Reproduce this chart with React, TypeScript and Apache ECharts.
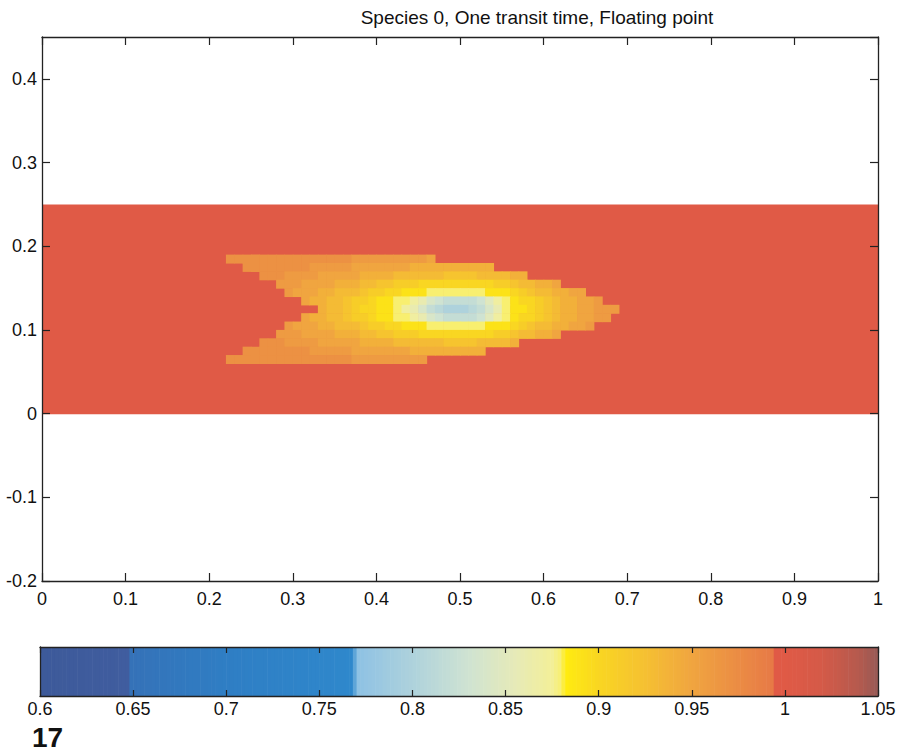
import React, { useEffect, useRef } from "react";
import * as echarts from "echarts";

// ---------------- data ----------------
const TITLE = "Species 0, One transit time, Floating point";
const FIG_NUMBER = "17";

const X_RANGE = [0, 1];
const X_INTERVAL = 0.1;
const Y_RANGE = [-0.2, 0.45];
const Y_INTERVAL = 0.1;
const CB_RANGE = [0.6, 1.05];
const CB_INTERVAL = 0.05;

// uniform background band of the channel (value 1.0)
const BAND_X = [0, 1];
const BAND_Y = [0, 0.25];
const BAND_VALUE = 1.0;

// plume cells: size of one cell in data units
const CELL_DX = 0.01;
const CELL_DY = 0.01;

// each row: lower y edge, left x edge of first cell, then cell values left -> right
const rowY = [0.18, 0.17, 0.16, 0.15, 0.14, 0.13, 0.12, 0.11, 0.10, 0.09, 0.08, 0.07, 0.06];
const rowX0 = [0.22, 0.24, 0.26, 0.28, 0.29, 0.31, 0.33, 0.31, 0.29, 0.28, 0.26, 0.24, 0.22];
const row18 = [0.97, 0.97, 0.97, 0.97, 0.97, 0.97, 0.97, 0.97, 0.97, 0.97, 0.97, 0.97, 0.97, 0.97, 0.97, 0.96, 0.96, 0.96, 0.96, 0.96, 0.96, 0.96, 0.96, 0.96, 0.95];
const row17 = [0.97, 0.97, 0.97, 0.97, 0.97, 0.97, 0.97, 0.97, 0.96, 0.96, 0.96, 0.96, 0.96, 0.95, 0.95, 0.95, 0.95, 0.95, 0.95, 0.95, 0.94, 0.94, 0.94, 0.94, 0.94, 0.94, 0.94, 0.94, 0.94, 0.94];
const row16 = [0.97, 0.97, 0.97, 0.96, 0.96, 0.96, 0.96, 0.95, 0.95, 0.95, 0.95, 0.95, 0.94, 0.94, 0.94, 0.94, 0.93, 0.93, 0.93, 0.93, 0.93, 0.93, 0.92, 0.92, 0.92, 0.92, 0.93, 0.93, 0.93, 0.93, 0.94, 0.94];
const row15 = [0.96, 0.96, 0.96, 0.95, 0.95, 0.95, 0.95, 0.94, 0.94, 0.94, 0.93, 0.93, 0.92, 0.92, 0.91, 0.91, 0.91, 0.90, 0.90, 0.90, 0.90, 0.90, 0.90, 0.90, 0.90, 0.90, 0.91, 0.91, 0.92, 0.93, 0.93, 0.94, 0.94, 0.95];
const row14 = [0.96, 0.95, 0.95, 0.95, 0.94, 0.94, 0.93, 0.93, 0.93, 0.92, 0.91, 0.91, 0.90, 0.90, 0.89, 0.89, 0.89, 0.88, 0.88, 0.88, 0.88, 0.88, 0.88, 0.88, 0.89, 0.89, 0.89, 0.90, 0.91, 0.92, 0.93, 0.93, 0.94, 0.94, 0.95, 0.95];
const row13 = [0.95, 0.94, 0.94, 0.93, 0.93, 0.92, 0.91, 0.91, 0.90, 0.89, 0.89, 0.88, 0.88, 0.87, 0.86, 0.84, 0.83, 0.82, 0.82, 0.82, 0.82, 0.83, 0.85, 0.87, 0.88, 0.89, 0.90, 0.90, 0.91, 0.92, 0.93, 0.94, 0.94, 0.95, 0.95, 0.96];
const row12 = [0.94, 0.93, 0.93, 0.92, 0.91, 0.90, 0.90, 0.89, 0.89, 0.88, 0.87, 0.86, 0.84, 0.82, 0.81, 0.80, 0.80, 0.80, 0.81, 0.82, 0.84, 0.86, 0.88, 0.89, 0.89, 0.90, 0.91, 0.92, 0.93, 0.94, 0.94, 0.95, 0.95, 0.96, 0.96, 0.96];
const row11 = [0.95, 0.94, 0.94, 0.93, 0.93, 0.92, 0.91, 0.91, 0.90, 0.89, 0.89, 0.88, 0.88, 0.87, 0.86, 0.84, 0.83, 0.82, 0.82, 0.82, 0.82, 0.83, 0.85, 0.87, 0.88, 0.89, 0.90, 0.90, 0.91, 0.92, 0.93, 0.94, 0.94, 0.95, 0.95, 0.96, 0.96];
const row10 = [0.96, 0.95, 0.95, 0.95, 0.94, 0.94, 0.93, 0.93, 0.93, 0.92, 0.91, 0.91, 0.90, 0.90, 0.89, 0.89, 0.89, 0.88, 0.88, 0.88, 0.88, 0.88, 0.88, 0.88, 0.89, 0.89, 0.89, 0.90, 0.91, 0.92, 0.93, 0.93, 0.94, 0.94, 0.95, 0.95, 0.96];
const row09 = [0.96, 0.96, 0.96, 0.95, 0.95, 0.95, 0.95, 0.94, 0.94, 0.94, 0.93, 0.93, 0.92, 0.92, 0.91, 0.91, 0.91, 0.90, 0.90, 0.90, 0.90, 0.90, 0.90, 0.90, 0.90, 0.90, 0.91, 0.91, 0.92, 0.93, 0.93, 0.94, 0.94, 0.95];
const row08 = [0.97, 0.97, 0.97, 0.96, 0.96, 0.96, 0.96, 0.95, 0.95, 0.95, 0.95, 0.95, 0.94, 0.94, 0.94, 0.94, 0.93, 0.93, 0.93, 0.93, 0.93, 0.93, 0.92, 0.92, 0.92, 0.92, 0.93, 0.93, 0.93, 0.93, 0.94];
const row07 = [0.97, 0.97, 0.97, 0.97, 0.97, 0.97, 0.97, 0.97, 0.96, 0.96, 0.96, 0.96, 0.96, 0.95, 0.95, 0.95, 0.95, 0.95, 0.95, 0.95, 0.94, 0.94, 0.94, 0.94, 0.94, 0.94, 0.94, 0.94, 0.94];
const row06 = [0.97, 0.97, 0.97, 0.97, 0.97, 0.97, 0.97, 0.97, 0.97, 0.97, 0.97, 0.97, 0.97, 0.97, 0.97, 0.96, 0.96, 0.96, 0.96, 0.96, 0.96, 0.96, 0.96, 0.96];
const rowValues = [row18, row17, row16, row15, row14, row13, row12, row11, row10, row09, row08, row07, row06];

// ---------------- style ----------------
const CMAP: [number, string][] = [
  [0.6, "#3d5a9a"],
  [0.647, "#405d9f"],
  [0.649, "#3572b8"],
  [0.7, "#2f7ec4"],
  [0.768, "#2f88cc"],
  [0.77, "#8dc1e4"],
  [0.8, "#aed2dc"],
  [0.83, "#cfe3d2"],
  [0.855, "#e6eab8"],
  [0.875, "#f3ef98"],
  [0.88, "#f8ef70"],
  [0.882, "#ffec10"],
  [0.9, "#f9d622"],
  [0.925, "#f5c032"],
  [0.95, "#f0a540"],
  [0.975, "#eb8c44"],
  [0.993, "#e77a46"],
  [0.995, "#e05a46"],
  [1.0, "#e05a46"],
  [1.02, "#d45a48"],
  [1.04, "#b45a4e"],
  [1.05, "#975a56"],
];

function hexToRgb(h: string) {
  const n = parseInt(h.slice(1), 16);
  return [(n >> 16) & 255, (n >> 8) & 255, n & 255];
}
function colorOf(v: number) {
  if (v <= CMAP[0][0]) return CMAP[0][1];
  for (let i = 1; i < CMAP.length; i++) {
    if (v <= CMAP[i][0]) {
      const [a, ca] = CMAP[i - 1];
      const [b, cb] = CMAP[i];
      const t = (v - a) / (b - a);
      const A = hexToRgb(ca), B = hexToRgb(cb);
      const c = A.map((x, k) => Math.round(x + (B[k] - x) * t));
      return `rgb(${c[0]},${c[1]},${c[2]})`;
    }
  }
  return CMAP[CMAP.length - 1][1];
}

const FONT = "'Liberation Sans', Arial, Helvetica, sans-serif";
const INK = "#222";

export default function App() {
  const ref = useRef<HTMLDivElement>(null);
  useEffect(() => {
    document.body.style.margin = "0";
    const chart = echarts.init(ref.current!, undefined, { renderer: "svg" });

    const fieldData: number[][] = [[BAND_X[0], BAND_Y[0], BAND_X[1], BAND_Y[1], BAND_VALUE]];
    rowValues.forEach((vals, r) => {
      vals.forEach((v, c) => {
        const x0 = rowX0[r] + c * CELL_DX;
        fieldData.push([x0, rowY[r], x0 + CELL_DX, rowY[r] + CELL_DY, v]);
      });
    });

    const cbData: number[][] = [];
    const cbStep = 0.002;
    for (let x = CB_RANGE[0]; x < CB_RANGE[1] - 1e-9; x += cbStep) {
      cbData.push([x, 0, Math.min(x + cbStep, CB_RANGE[1]), 1, x + cbStep / 2]);
    }

    const renderRect = (params: any, api: any) => {
      const p0 = api.coord([api.value(0), api.value(3)]);
      const p1 = api.coord([api.value(2), api.value(1)]);
      return {
        type: "rect",
        shape: { x: p0[0], y: p0[1], width: p1[0] - p0[0] + 0.6, height: p1[1] - p0[1] + 0.6 },
        style: { fill: colorOf(api.value(4)) },
      };
    };

    const axisLine = { show: true, onZero: false, lineStyle: { color: INK, width: 1.3 } };
    const label = { color: "#111", fontFamily: FONT, fontSize: 18 };
    const tick = (len: number) => ({ show: true, inside: true, length: len, lineStyle: { color: INK, width: 1.2 } });

    chart.setOption({
      animation: false,
      backgroundColor: "#fff",
      title: [
        {
          text: TITLE,
          left: 537,
          top: 6,
          padding: 0,
          textAlign: "center",
          textStyle: { fontFamily: FONT, fontSize: 19, fontWeight: "normal", color: "#111", lineHeight: 22 },
        },
        {
          text: FIG_NUMBER,
          left: 32,
          top: 725,
          padding: 0,
          textStyle: { fontFamily: FONT, fontSize: 28, fontWeight: "bold", color: "#111", lineHeight: 24 },
        },
      ],
      grid: [
        { left: 42, right: 26, top: 37, bottom: 170 },
        { left: 40, right: 26, top: 647, height: 49 },
      ],
      xAxis: [
        {
          type: "value", gridIndex: 0, position: "bottom", min: X_RANGE[0], max: X_RANGE[1], interval: X_INTERVAL,
          axisLine, axisTick: tick(8), axisLabel: { ...label, margin: 9 }, splitLine: { show: false }, z: 10,
        },
        {
          type: "value", gridIndex: 0, position: "top", min: X_RANGE[0], max: X_RANGE[1], interval: X_INTERVAL,
          axisLine, axisTick: tick(8), axisLabel: { show: false }, splitLine: { show: false }, z: 10,
        },
        {
          type: "value", gridIndex: 1, position: "bottom", min: CB_RANGE[0], max: CB_RANGE[1], interval: CB_INTERVAL,
          axisLine, axisTick: tick(6), axisLabel: { ...label, margin: 4, lineHeight: 18 }, splitLine: { show: false }, z: 10,
        },
        {
          type: "value", gridIndex: 1, position: "top", min: CB_RANGE[0], max: CB_RANGE[1], interval: CB_INTERVAL,
          axisLine, axisTick: tick(6), axisLabel: { show: false }, splitLine: { show: false }, z: 10,
        },
      ],
      yAxis: [
        {
          type: "value", gridIndex: 0, position: "left", min: Y_RANGE[0], max: Y_RANGE[1], interval: Y_INTERVAL,
          axisLine, axisTick: tick(8), axisLabel: { ...label, margin: 5, showMaxLabel: false },
          splitLine: { show: false }, z: 10,
        },
        {
          type: "value", gridIndex: 0, position: "right", min: Y_RANGE[0], max: Y_RANGE[1], interval: Y_INTERVAL,
          axisLine, axisTick: tick(8), axisLabel: { show: false }, splitLine: { show: false }, z: 10,
        },
        {
          type: "value", gridIndex: 1, position: "left", min: 0, max: 1,
          axisLine, axisTick: { show: false }, axisLabel: { show: false }, splitLine: { show: false }, z: 10,
        },
        {
          type: "value", gridIndex: 1, position: "right", min: 0, max: 1,
          axisLine, axisTick: { show: false }, axisLabel: { show: false }, splitLine: { show: false }, z: 10,
        },
      ],
      series: [
        {
          type: "custom", xAxisIndex: 0, yAxisIndex: 0, silent: true, z: 1,
          encode: { x: [0, 2], y: [1, 3] },
          renderItem: renderRect, data: fieldData,
        },
        {
          type: "custom", xAxisIndex: 2, yAxisIndex: 2, silent: true, z: 1,
          encode: { x: [0, 2], y: [1, 3] },
          renderItem: renderRect, data: cbData,
        },
      ],
    });
    return () => chart.dispose();
  }, []);
  return <div ref={ref} style={{ width: 904, height: 751 }} />;
}
